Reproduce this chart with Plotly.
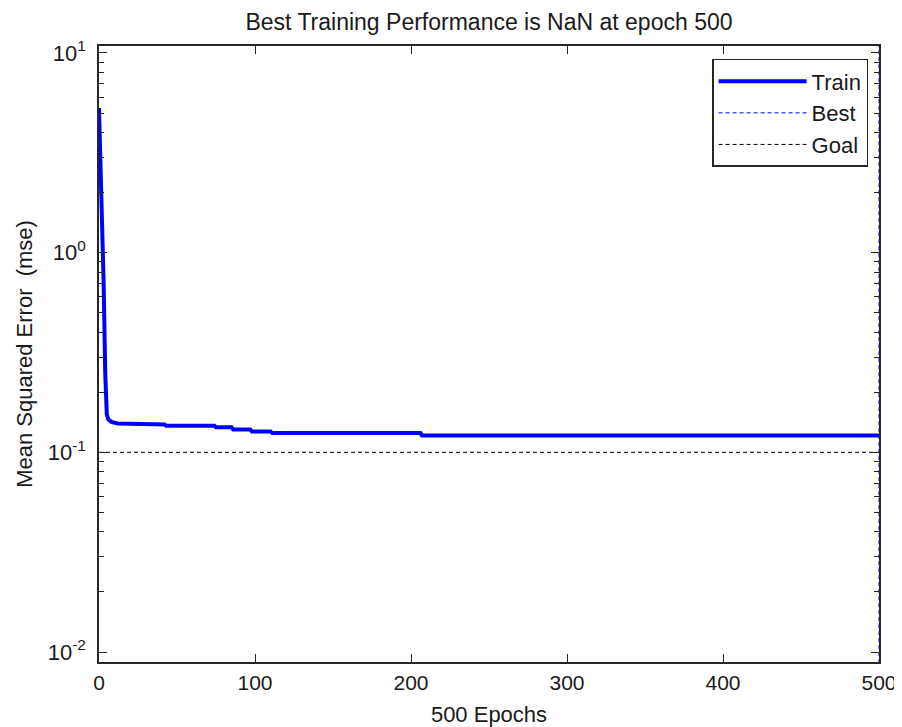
import plotly.graph_objects as go

# training curve (epoch, mse)
epochs = [0, 1, 2, 3, 4, 5, 6, 8, 12, 33, 34, 42, 43, 74, 75, 85, 86, 97, 98,
          110, 111, 206, 207, 500]
train_mse = [5.3, 2.7, 1.6, 0.69, 0.25, 0.155, 0.146, 0.142, 0.1396, 0.1396,
             0.138, 0.138, 0.136, 0.136, 0.1334, 0.1334, 0.130, 0.130, 0.127,
             0.127, 0.1249, 0.1249, 0.1216, 0.1216]

best_epoch = [500, 500]
best_y = [0.005, 20]
goal_x = [0, 500]
goal_y = [0.1, 0.1]

y_tickvals = [0.01, 0.1, 1, 10]
y_ticktext = ["10<sup>-2</sup>", "10<sup>-1</sup>", "10<sup>0</sup>", "10<sup>1</sup>"]
x_tickvals = [0, 100, 200, 300, 400, 500]

FONT = dict(family="Liberation Sans, Arial, sans-serif", size=21, color="#1a1a1a")
AX = "#262626"

fig = go.Figure()
fig.add_trace(go.Scatter(x=epochs, y=train_mse, mode="lines", name="Train",
                         line=dict(color="#0000ff", width=4)))
fig.add_trace(go.Scatter(x=best_epoch, y=best_y, mode="lines", name="Best",
                         line=dict(color="#0000ff", width=1, dash="4px,3px")))
fig.add_trace(go.Scatter(x=goal_x, y=goal_y, mode="lines", name="Goal",
                         line=dict(color="#000000", width=1, dash="4px,3px")))

# the page body adds an 8px offset, so the figure is sized 8px smaller
fig.update_layout(
    width=894, height=719,
    margin=dict(l=91, r=23, t=38, b=65, autoexpand=False),
    paper_bgcolor="white", plot_bgcolor="white",
    font=FONT,
    title=dict(text="Best Training Performance is NaN at epoch 500",
               x=0.538, xanchor="center", y=0.981, yanchor="middle",
               font=dict(size=23)),
    legend=dict(x=0.986, xanchor="right", y=0.979, yanchor="top",
                bgcolor="white", bordercolor="#262626", borderwidth=1.5,
                font=dict(size=22), itemwidth=88),
    showlegend=True,
)
fig.update_xaxes(range=[0, 500], tickvals=x_tickvals, showgrid=False, zeroline=False,
                 automargin=False, tickfont=dict(size=21), ticklabelstandoff=1,
                 showline=True, linecolor=AX, linewidth=1.5, mirror="ticks",
                 ticks="inside", ticklen=8, tickcolor=AX,
                 title=dict(text="500 Epochs", standoff=22, font=dict(size=22)))
fig.update_yaxes(type="log", range=[-2.05, 1.035], tickvals=y_tickvals,
                 ticktext=y_ticktext, showgrid=False, zeroline=False,
                 automargin=False, tickfont=dict(size=22),
                 showline=True, linecolor=AX, linewidth=1.5, mirror="ticks",
                 ticks="inside", ticklen=8, tickcolor=AX, ticklabelstandoff=7,
                 minor=dict(ticks="inside", ticklen=5, tickcolor=AX, dtick="D1",
                            showgrid=False),
                 title=dict(text="Mean Squared Error\u00a0\u00a0(mse)", standoff=9,
                            font=dict(size=22)))

fig.write_html("out.html")
